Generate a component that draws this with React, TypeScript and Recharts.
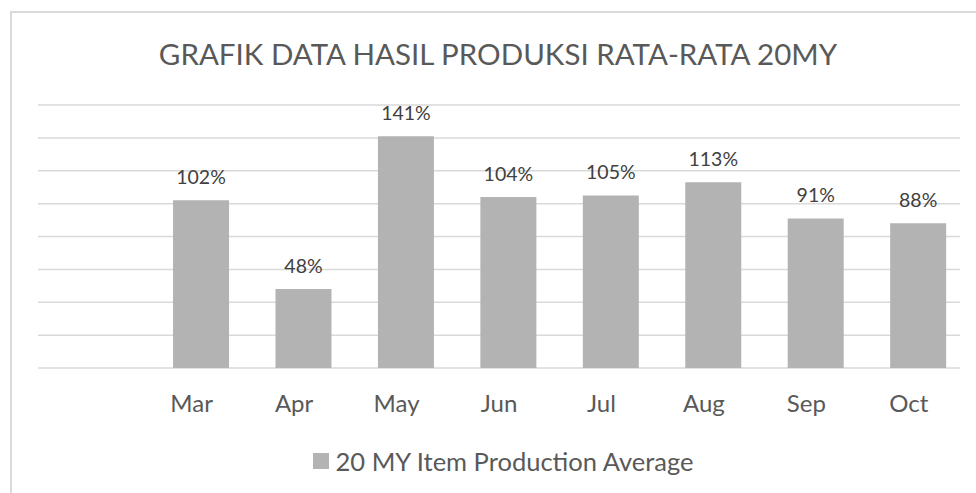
import React from "react";
import { BarChart, Bar, XAxis, YAxis, CartesianGrid, Legend, LabelList, Rectangle } from "recharts";

const categories = ["", "Mar", "Apr", "May", "Jun", "Jul", "Aug", "Sep", "Oct"];
const productionAverage: (number | null)[] = [null, 102, 48, 141, 104, 105, 113, 91, 88];
const yTicks = [0, 20, 40, 60, 80, 100, 120, 140, 160];
const seriesName = "20 MY Item Production Average";
const title = "GRAFIK DATA HASIL PRODUKSI RATA-RATA 20MY";

const data = categories.map((month, i) => ({ month, avg: productionAverage[i] }));

const FONT = "Lato, 'Open Sans', sans-serif";
const BAR_SHIFT = 9.6;

const LegendContent = (props: any) => {
  const items = props.payload || [];
  return (
    <div style={{ display: "flex", justifyContent: "center", alignItems: "center", fontFamily: FONT, paddingLeft: 8 }}>
      {items.map((it: any, i: number) => (
        <div key={i} style={{ display: "flex", alignItems: "center" }}>
          <span style={{ display: "inline-block", width: 16, height: 16, background: it.color, marginRight: 7 }} />
          <span style={{ color: "#595959", fontSize: 25.5 }}>{it.value}</span>
        </div>
      ))}
    </div>
  );
};

const ShiftedBar = (props: any) => <Rectangle {...props} x={props.x + BAR_SHIFT} />;

export default function App() {
  return (
    <div style={{ position: "absolute", left: 0, top: 0, width: 976, height: 493, overflow: "hidden", background: "#fff" }}>
      <div
        style={{
          position: "absolute",
          left: 10,
          top: 11,
          width: 1000,
          height: 600,
          border: "2px solid #d9d9d9",
          boxSizing: "border-box",
        }}
      />
      <div
        style={{
          position: "absolute",
          left: 10,
          top: 33,
          width: 976,
          textAlign: "center",
          fontFamily: FONT,
          fontSize: 29.5,
          color: "#595959",
          lineHeight: "42px",
        }}
      >
        {title}
      </div>
      <div style={{ position: "absolute", left: 0, top: 0 }}>
        <BarChart width={976} height={493} data={data} margin={{ top: 105, right: 16, bottom: 7, left: 38 }}>
          <CartesianGrid horizontal vertical={false} x={38} width={922} stroke="#d9d9d9" strokeWidth={1.5} />
          <YAxis hide domain={[0, 160]} ticks={yTicks} type="number" />
          <XAxis
            dataKey="month"
            tickLine={false}
            tickSize={0}
            tickMargin={27}
            axisLine={false}
            height={78}
            tick={{ fill: "#595959", fontSize: 24, fontFamily: FONT }}
            interval={0}
          />
          <Legend verticalAlign="bottom" height={40} content={<LegendContent />} />
          <Bar dataKey="avg" name={seriesName} fill="#b3b3b3" barSize={56} shape={ShiftedBar} isAnimationActive={false}>
            <LabelList
              dataKey="avg"
              position="top"
              offset={16}
              dx={BAR_SHIFT}
              formatter={(v: any) => (v == null ? "" : `${v}%`)}
              style={{ fill: "#404040", fontSize: 19.5, fontFamily: FONT }}
            />
          </Bar>
        </BarChart>
      </div>
    </div>
  );
}
